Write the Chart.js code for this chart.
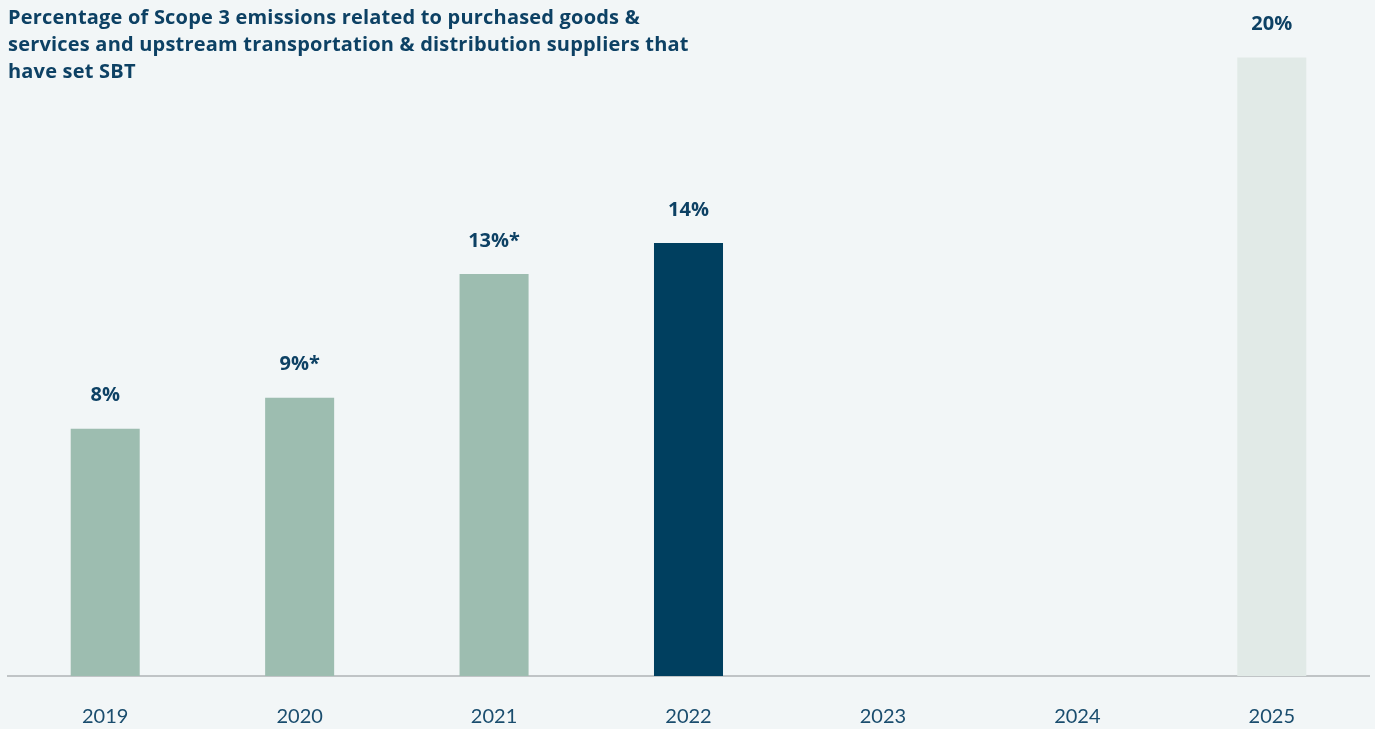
<!DOCTYPE html>
<html>
<head>
<meta charset="utf-8">
<script src="https://cdn.jsdelivr.net/npm/chart.js@4/dist/chart.umd.min.js"></script>
<style>
  html, body { margin: 0; padding: 0; background: #f2f6f7; overflow: hidden; }
  #wrap { position: relative; width: 1375px; height: 729px; overflow: hidden; }
  #title {
    position: absolute; left: 8px; top: 3px; width: 760px;
    font-family: "Open Sans", "Lato", sans-serif; font-weight: 700;
    font-size: 20px; letter-spacing: 0.2px; line-height: 27px; color: #0d4164;
  }
  canvas { position: absolute; left: 0; top: 0; }
</style>
</head>
<body>
<div id="wrap">
  <canvas id="c" width="1375" height="758"></canvas>
  <div id="title">Percentage of Scope 3 emissions related to purchased goods &amp;<br>services and upstream transportation &amp; distribution suppliers that<br>have set SBT</div>
</div>
<script>
const years = ['2019', '2020', '2021', '2022', '2023', '2024', '2025'];
const shares = [8, 9, 13, 14, null, null, 20];
const valueLabels = ['8%', '9%*', '13%*', '14%', '', '', '20%'];
const barColors = ['#9dbdb0', '#9dbdb0', '#9dbdb0', '#003f5f', '#9dbdb0', '#9dbdb0', '#e1eae7'];

const valueLabelPlugin = {
  id: 'valueLabels',
  afterDatasetsDraw(chart) {
    const ctx = chart.ctx;
    const meta = chart.getDatasetMeta(0);
    ctx.save();
    ctx.font = '700 20px "Open Sans", "Lato", sans-serif';
    ctx.fillStyle = '#0d4164';
    ctx.textAlign = 'center';
    ctx.textBaseline = 'middle';
    meta.data.forEach((bar, i) => {
      if (shares[i] == null) return;
      ctx.fillText(valueLabels[i], bar.x, bar.y - 33);
    });
    ctx.restore();
  }
};

new Chart(document.getElementById('c'), {
  type: 'bar',
  data: {
    labels: years,
    datasets: [{
      data: shares,
      backgroundColor: barColors,
      barPercentage: 0.355,
      categoryPercentage: 1.0
    }]
  },
  options: {
    responsive: false,
    animation: false,
    layout: { padding: { left: 8, right: 6, top: 5, bottom: 0 } },
    plugins: { legend: { display: false }, tooltip: { enabled: false } },
    scales: {
      x: {
        grid: { display: false, drawTicks: false },
        border: { display: true, color: '#c0c4c6', width: 2 },
        ticks: {
          color: '#1a4d6e',
          font: { family: '"Lato", "Open Sans", sans-serif', size: 20 },
          padding: 29
        }
      },
      y: {
        display: false,
        min: 0,
        max: 21.7
      }
    }
  },
  plugins: [valueLabelPlugin]
});
</script>
</body>
</html>
